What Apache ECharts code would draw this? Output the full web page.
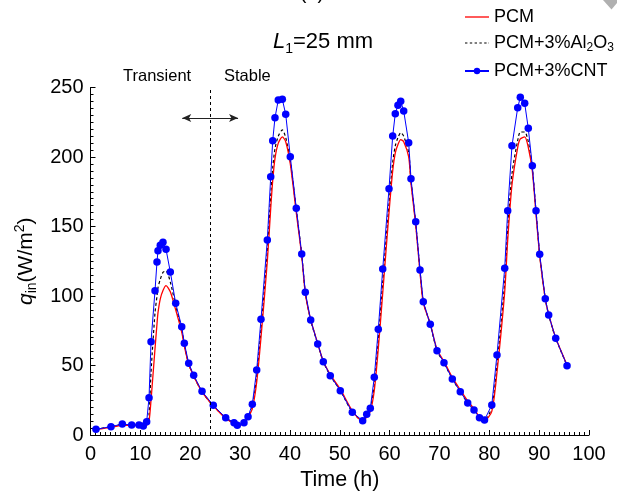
<!DOCTYPE html>
<html>
<head>
<meta charset="utf-8">
<script src="https://cdn.jsdelivr.net/npm/echarts@6/dist/echarts.min.js"></script>
<style>
html,body{margin:0;padding:0;background:#fff;}
#chart{width:617px;height:497px;}
</style>
</head>
<body>
<div id="chart"></div>
<script>
// Time (h) of each sample
const timeH = [1.10,4.11,6.38,8.26,9.73,10.59,11.27,11.74,12.14,12.94,13.34,13.54,14.00,14.54,15.15,16.01,17.09,18.30,18.82,19.70,
  20.70,22.37,24.63,27.12,28.79,29.45,30.79,31.60,32.46,33.34,34.20,35.47,36.15,36.55,37.01,37.67,38.48,39.16,40.08,41.28,
  42.37,43.09,44.17,45.58,46.70,48.10,50.11,52.52,54.60,55.41,56.13,56.93,57.73,58.62,59.88,60.62,61.14,61.68,62.23,62.83,
  63.83,64.29,65.24,66.10,66.76,68.16,69.51,70.91,72.58,74.18,75.67,76.93,78.03,79.04,80.50,81.54,83.09,83.69,84.55,85.70,
  86.22,87.10,87.82,88.63,89.37,90.11,91.23,91.91,93.32,95.59];
// PCM+3%CNT
const qCNT = [4.1,6.0,7.9,7.2,7.2,6.5,9.6,26.8,67.1,103.8,124.5,132.6,136.5,138.6,133.6,117.3,94.7,77.9,66.0,51.6,
  42.9,31.4,21.4,12.4,8.8,7.0,8.8,13.2,22.1,46.8,83.2,140.3,185.8,211.7,228.3,241.0,241.5,230.7,200.2,163.1,
  130.2,102.7,82.7,65.5,52.7,42.7,31.9,16.3,10.3,14.9,19.2,41.5,76.0,119.4,177.2,215.1,231.2,237.2,240.1,233.1,
  210.3,184.4,153.5,118.7,95.9,79.6,60.6,52.0,40.3,31.2,23.0,18.0,12.4,10.8,21.6,57.6,119.9,161.4,208.1,235.5,
  242.9,238.6,220.6,193.7,161.4,130.0,98.1,86.3,69.6,49.9];
// PCM
const qPCM = [4,5.5,7,7,7,6,7,10,25,62,80,88,98,104,107.5,103,90,74,64,51,
  42.5,31,21,12,8,7,8.5,12.5,19,38,70,125,163,183,199,210,214.5,211,195,160,
  129,102,83,66,53,43.5,33,17.5,10,13,17,32,62,102,160,190,203,209,212.5,211,
  200,181,151,117,95,80,61.5,53,41.5,32.5,24.5,19,13,10.5,17,45,103,140,180,207,
  213,214.5,207,190,159,129,98,87,70,50.5];
// PCM+3%Al2O3
const qAl2O3 = [4,6,7.5,7,7,6.5,8,15,45,88,100,106,112,117,118,110,93,76,65,51,
  42.5,31,21,12.2,8.5,7,8.5,13,20,42,76,132,172,192,206,215,219.5,214,197,162,
  130,102.5,82.5,65.5,52.7,42.7,32,16.5,10.3,14.5,18.5,36,68,110,166,196,208,214,217.5,215,
  203,183,152,118.5,95.9,79.6,60.6,52,40.3,31.2,23,18,12.4,10.8,20,50,110,148,188,212,
  218,218,211,192,161,129.5,98,86.3,69.6,50];

const xTicks = [0,10,20,30,40,50,60,70,80,90,100];
const yTicks = [0,50,100,150,200,250];
const dividerTime = 24;
const arrowSpan = [18.4, 29.6];
const arrowLevel = 228;

const FONT = "'Liberation Sans', Arial, Helvetica, sans-serif";
const pairs = (ys) => timeH.map((t, i) => [t, ys[i]]);

const legendRich = {
  'PCM': '{n|PCM}',
  'PCM+3%Al2O3': '{n|PCM+3%Al}{s|2}{n|O}{s|3}',
  'PCM+3%CNT': '{n|PCM+3%CNT}'
};

const chart = echarts.init(document.getElementById('chart'), null, {renderer: 'canvas'});
chart.setOption({
  animation: false,
  backgroundColor: '#fff',
  textStyle: {fontFamily: FONT},
  grid: {left: 90.5, right: 28, top: 87.5, bottom: 62, containLabel: false},
  title: {
    text: '{i|L}{s|1}{n|=25 mm}',
    left: 273, top: 28, padding: 0,
    textStyle: {
      fontFamily: FONT, fontWeight: 'normal',
      rich: {
        i: {fontSize: 22, fontStyle: 'italic', fontWeight: 'normal', color: '#000', fontFamily: FONT},
        s: {fontSize: 14, fontWeight: 'normal', color: '#000', padding: [14, 0, 0, 0], fontFamily: FONT},
        n: {fontSize: 22, fontWeight: 'normal', color: '#000', fontFamily: FONT}
      }
    }
  },
  legend: {
    orient: 'vertical',
    left: 464, top: 8, padding: 0,
    itemWidth: 24, itemHeight: 8,
    itemGap: 8,
    selectedMode: false,
    data: [
      {name: 'PCM', icon: 'path://M0,0H24V1.3H0Z'},
      {name: 'PCM+3%Al2O3', icon: 'path://M0,0H2.4V1.2H0Z M4.8,0H7.2V1.2H4.8Z M9.6,0H12V1.2H9.6Z M14.4,0H16.8V1.2H14.4Z M19.2,0H21.6V1.2H19.2Z M23.6,0H24V1.2H23.6Z'},
      {name: 'PCM+3%CNT'}
    ],
    formatter: (name) => legendRich[name],
    textStyle: {
      color: '#000',
      fontFamily: FONT,
      rich: {
        n: {fontSize: 18, color: '#000', lineHeight: 22, fontFamily: FONT},
        s: {fontSize: 12, color: '#000', padding: [10, 0, 0, 0], fontFamily: FONT}
      }
    }
  },
  xAxis: {
    type: 'value', min: xTicks[0], max: xTicks[xTicks.length - 1], interval: 10,
    name: 'Time (h)', nameLocation: 'middle', nameGap: 33,
    nameTextStyle: {fontSize: 21.5, color: '#000', fontFamily: FONT},
    axisLine: {show: true, onZero: false, lineStyle: {color: '#000', width: 1}},
    axisTick: {show: true, inside: true, length: 5, lineStyle: {color: '#000'}},
    minorTick: {show: true, splitNumber: 10, length: 3, lineStyle: {color: '#000'}},
    axisLabel: {fontSize: 20, color: '#000', margin: 9, fontFamily: FONT},
    splitLine: {show: false}
  },
  yAxis: {
    type: 'value', min: yTicks[0], max: yTicks[yTicks.length - 1], interval: 50,
    name: '{q|q}{sb|in}{n|(W/m}{sp|2}{n|)}', nameLocation: 'middle', nameGap: 48, nameRotate: 90,
    nameTextStyle: {
      fontFamily: FONT, color: '#000',
      rich: {
        q: {fontSize: 21, fontStyle: 'italic', color: '#000', fontFamily: FONT},
        sb: {fontSize: 14, color: '#000', padding: [12, 0, 0, 0], fontFamily: FONT},
        n: {fontSize: 21, color: '#000', fontFamily: FONT},
        sp: {fontSize: 14, color: '#000', padding: [0, 0, 12, 0], fontFamily: FONT}
      }
    },
    axisLine: {show: true, lineStyle: {color: '#000', width: 1}},
    axisTick: {show: true, inside: true, length: 5, lineStyle: {color: '#000'}},
    minorTick: {show: true, splitNumber: 10, length: 3, lineStyle: {color: '#000'}},
    axisLabel: {fontSize: 20, color: '#000', margin: 7, fontFamily: FONT},
    splitLine: {show: false}
  },
  series: [
    {
      name: 'PCM+3%Al2O3', type: 'line', data: pairs(qAl2O3),
      symbol: 'none', smooth: 0.25,
      lineStyle: {color: '#000', width: 1.2, type: [3, 2.5]},
      itemStyle: {color: '#000'},
      z: 2,
      markLine: {
        silent: true, symbol: 'none', animation: false,
        label: {show: false},
        lineStyle: {color: '#000', width: 1, type: [3, 3]},
        data: [[{coord: [dividerTime, 0]}, {coord: [dividerTime, 250]}]]
      }
    },
    {
      name: 'PCM', type: 'line', data: pairs(qPCM),
      symbol: 'none', smooth: 0.25,
      lineStyle: {color: '#ff0000', width: 1.3},
      itemStyle: {color: '#ff0000'},
      z: 3,
      markLine: {
        silent: true, symbol: ['arrow', 'arrow'], symbolSize: [6, 9], animation: false,
        label: {show: false},
        lineStyle: {color: '#222', width: 1.2, type: 'solid'},
        data: [[{coord: [arrowSpan[0], arrowLevel]}, {coord: [arrowSpan[1], arrowLevel]}]]
      }
    },
    {
      name: 'PCM+3%CNT', type: 'line', data: pairs(qCNT),
      symbol: 'circle', symbolSize: 7.5, showSymbol: true,
      lineStyle: {color: '#0000ff', width: 1},
      itemStyle: {color: '#0000ff'},
      z: 4
    }
  ],
  graphic: [
    {type: 'text', left: 123, top: 68, style: {text: 'Transient', fontSize: 16.5, fill: '#000', fontFamily: FONT}},
    {type: 'text', left: 224, top: 68, style: {text: 'Stable', fontSize: 16.5, fill: '#000', fontFamily: FONT}},
    {type: 'text', x: 312, y: -7, style: {text: '(a)', fontSize: 20, fill: '#000', align: 'center', verticalAlign: 'middle', fontFamily: FONT}},
    {type: 'polygon', shape: {points: [[603, 0], [617, 0], [617, 3], [611.5, 9.5]]}, style: {fill: '#b0b0b0'}}
  ]
});
</script>
</body>
</html>
